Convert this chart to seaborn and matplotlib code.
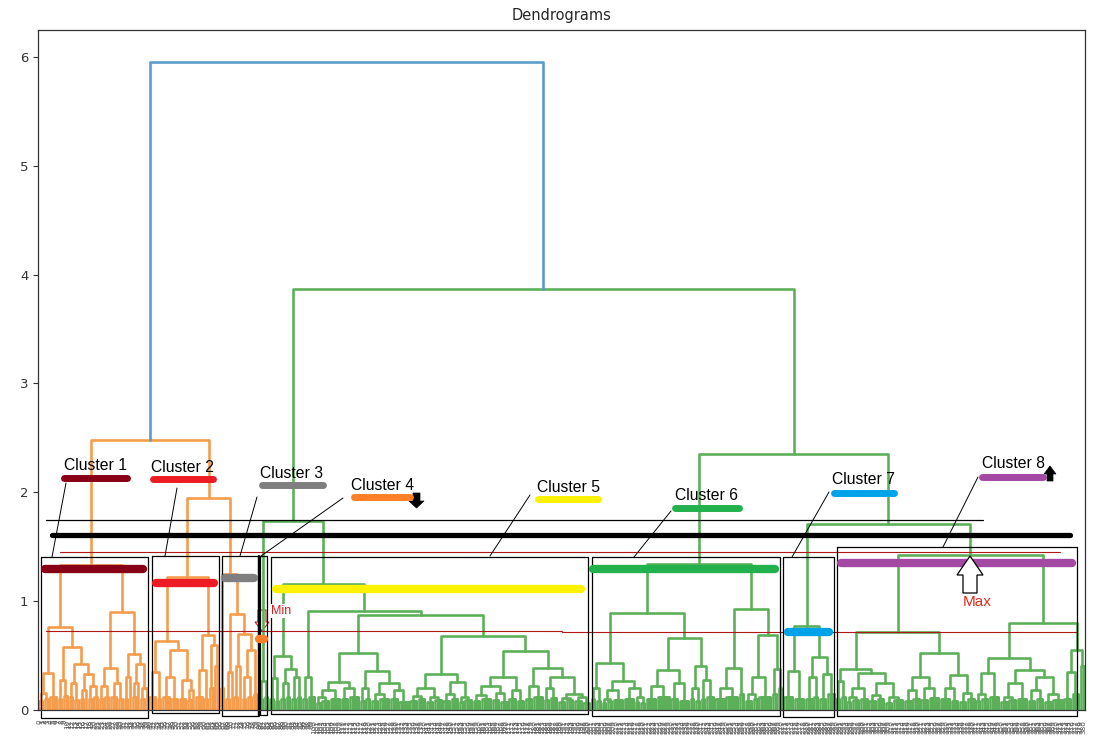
import matplotlib
matplotlib.use("Agg")
import matplotlib.pyplot as plt
import seaborn as sns
import pandas as pd
from matplotlib.patches import Polygon

# ------------------------------------------------------------------
# DATA: dendrogram
# node = [merge_height, left, right]   bundle = (merge_height, n_leaves)
# ------------------------------------------------------------------
cluster_1 = [1.33,
    [0.76,
        [0.34, [0.16, (0.08, 2), (0.10, 2)], (0.12, 3)],
        [0.58,
            [0.28, (0.10, 2), (0.13, 2)],
            [0.42,
                [0.25, (0.12, 2), (0.09, 2)],
                [0.33, [0.18, (0.10, 2), (0.0, 1)], [0.22, (0.10, 2), (0.12, 2)]]]]],
    [0.90,
        [0.39, [0.22, (0.10, 2), (0.12, 2)], [0.25, (0.12, 3), (0.10, 2)]],
        [0.51, [0.30, (0.10, 2), (0.0, 1)],
               [0.42, [0.25, (0.12, 2), (0.0, 1)], [0.20, (0.10, 2), (0.0, 1)]]]]]

cluster_2 = [1.22,
    [0.63,
        [0.35, (0.12, 3), (0.10, 2)],
        [0.55, [0.30, (0.12, 3), (0.10, 3)], [0.28, (0.10, 3), [0.18, (0.09, 2), (0.0, 1)]]]],
    [0.69,
        [0.37, (0.12, 3), (0.10, 2)],
        [0.60, (0.20, 2), (0.40, 2)]]]

cluster_3 = [1.25, (0.20, 2),
    [0.88, [0.35, (0.10, 2), (0.0, 1)],
           [0.70, [0.40, (0.12, 2), (0.0, 1)],
                  [0.55, [0.30, (0.10, 2), (0.12, 2)], (0.15, 2)]]]]

cluster_4 = [0.27, (0.10, 2), (0.12, 2)]

cluster_5 = [1.16,
    [0.50,
        [0.29, (0.10, 2), (0.08, 2)],
        [0.38, [0.25, (0.10, 2), (0.12, 2)], [0.30, (0.10, 2), (0.12, 2)]]],
    [0.91,
        [0.30, (0.10, 2), (0.12, 3)],
        [0.87,
            [0.52,
                [0.26, [0.18, [0.12, (0.06, 2), (0.08, 3)], (0.10, 4)],
                       [0.20, (0.10, 3), (0.12, 4)]],
                [0.36, [0.20, (0.08, 2), (0.10, 2)],
                       [0.25, [0.15, (0.08, 3), (0.10, 4)], [0.18, (0.10, 3), (0.07, 4)]]]],
            [0.68,
                [0.33, [0.20, [0.13, (0.08, 3), (0.10, 3)], [0.12, (0.07, 3), (0.09, 3)]],
                       [0.26, [0.15, (0.08, 3), (0.10, 3)], [0.12, (0.07, 2), (0.09, 3)]]],
                [0.54,
                    [0.30, [0.22, [0.14, (0.08, 3), (0.10, 4)], [0.16, (0.09, 3), (0.07, 3)]],
                           [0.18, (0.10, 3), (0.08, 3)]],
                    [0.39, [0.22, (0.10, 3), (0.12, 4)],
                           [0.30, [0.20, (0.09, 2), (0.11, 3)],
                                  [0.15, [0.11, (0.07, 3), (0.09, 3)],
                                         [0.12, (0.08, 3), (0.06, 3)]]]]]]]]]

cluster_6 = [1.34,
    [0.89,
        [0.43, [0.20, (0.10, 2), (0.08, 2)],
               [0.27, [0.18, [0.10, (0.06, 2), (0.08, 2)], (0.09, 4)],
                      [0.20, (0.10, 4), [0.12, (0.07, 2), (0.06, 2)]]]],
        [0.66,
            [0.37, [0.22, (0.10, 4), (0.12, 5)], [0.25, (0.10, 3), (0.08, 4)]],
            [0.40, [0.20, (0.10, 2), (0.08, 2)], [0.28, (0.10, 2), (0.12, 3)]]]],
    [0.93,
        [0.39, [0.20, (0.10, 4), (0.12, 5)], (0.15, 2)],
        [0.69, [0.30, [0.15, (0.08, 3), (0.10, 2)], (0.12, 5)],
               [0.38, (0.15, 2), (0.20, 2)]]]]

cluster_7 = [0.77,
    [0.36, (0.12, 4), (0.10, 4)],
    [0.49, [0.30, (0.10, 3), (0.12, 2)], [0.33, (0.10, 3), (0.15, 3)]]]

cluster_8 = [1.42,
    [0.72,
        [0.38, [0.27, (0.10, 2), (0.12, 2)],
               [0.34, [0.20, [0.12, (0.07, 2), (0.09, 3)], (0.10, 3)],
                      [0.25, [0.14, (0.08, 3), (0.10, 3)], [0.12, (0.06, 3), (0.09, 4)]]]],
        [0.52, [0.30, [0.18, (0.08, 3), (0.10, 3)], [0.20, (0.09, 3), (0.11, 4)]],
               [0.32, [0.20, (0.10, 4), (0.08, 3)], [0.16, (0.07, 3), (0.10, 3)]]]],
    [0.80,
        [0.48, [0.34, [0.15, (0.08, 2), (0.10, 3)], (0.12, 4)],
               [0.37, [0.25, [0.12, (0.07, 3), (0.09, 3)], (0.10, 4)],
                      [0.30, [0.18, (0.08, 3), (0.10, 3)], [0.15, (0.07, 3), (0.09, 4)]]]],
        [0.55, [0.35, (0.10, 3), (0.15, 3)], (0.40, 2)]]]

orange_link_heights = [2.48, 1.95]          # orange root, cluster2+3
green_link_heights = [3.87, 1.74, 2.35, 1.71]  # green root, c4+c5, c6+(c7,c8), c7+c8
root_height = 5.95

cluster_names = ["Cluster 1", "Cluster 2", "Cluster 3", "Cluster 4",
                 "Cluster 5", "Cluster 6", "Cluster 7", "Cluster 8"]
cluster_colors = ["#880015", "#ED1C24", "#7F7F7F", "#FF7F27",
                  "#FFF200", "#22B14C", "#00A2E8", "#A349A4"]
line_palette = {"orange": "#F59D4C", "green": "#5DB05A", "blue": "#5B9CCB"}

# ------------------------------------------------------------------
# build link paths
# ------------------------------------------------------------------
orange_tree = [orange_link_heights[0], cluster_1,
               [orange_link_heights[1], cluster_2, cluster_3]]
green_tree = [green_link_heights[0],
              [green_link_heights[1], cluster_4, cluster_5],
              [green_link_heights[2], cluster_6,
               [green_link_heights[3], cluster_7, cluster_8]]]

rows = []
link_counter = [0]
leaf_counter = [0]


def add_path(xs, ys, group):
    lid = link_counter[0]
    link_counter[0] += 1
    for i, (x, y) in enumerate(zip(xs, ys)):
        rows.append({"link": lid, "order": i, "x": x, "y": y, "group": group})


def layout(node, group):
    if isinstance(node, tuple):
        h, k = node
        xs = [5.0 + 10.0 * (leaf_counter[0] + i) for i in range(k)]
        leaf_counter[0] += k
        if k == 1:
            return xs[0], 0.0
        px, py = [], []
        for i, x in enumerate(xs):
            if i == 0:
                px += [x, x]
                py += [0.0, h]
            else:
                px += [x, x, x]
                py += [h, 0.0, h]
        add_path(px, py, group)
        return sum(xs) / k, h
    h, left, right = node
    xl, hl = layout(left, group)
    xr, hr = layout(right, group)
    add_path([xl, xl, xr, xr], [hl, h, h, hr], group)
    return (xl + xr) / 2.0, h


xo, ho = layout(orange_tree, "orange")
xg, hg = layout(green_tree, "green")
add_path([xo, xo, xg, xg], [ho, root_height, root_height, hg], "blue")
N = leaf_counter[0]
df = pd.DataFrame(rows)

# ------------------------------------------------------------------
# figure
# ------------------------------------------------------------------
sns.set_style("ticks")
plt.rcParams["font.family"] = ["DejaVu Sans"]
W, H = 1108, 745
fig = plt.figure(figsize=(W / 100, H / 100), dpi=100)
X0, X1, YB, YT = 38, 1085, 710, 30
ax = fig.add_axes([X0 / W, 1 - YB / H, (X1 - X0) / W, (YB - YT) / H])

sns.lineplot(data=df, x="x", y="y", units="link", estimator=None, hue="group",
             palette=line_palette, sort=False, linewidth=1.9, legend=False, ax=ax)

YMAX = root_height * 1.05
ax.set_xlim(0, 10 * N)
ax.set_ylim(0, YMAX)
ax.set_xlabel("")
ax.set_ylabel("")
ax.set_title("Dendrograms", fontsize=10.5, pad=7)
ax.set_yticks([0, 1, 2, 3, 4, 5, 6])
ax.tick_params(axis="y", labelsize=9.5, length=3.5, colors="#333333")
leaf_labels = [str(i) for i in range(N)]
ax.set_xticks([5 + 10 * i for i in range(N)])
ax.set_xticklabels(leaf_labels, rotation=90, fontsize=5.2, color="#555555")
ax.tick_params(axis="x", length=0, pad=7)
for s in ax.spines.values():
    s.set_visible(True)
    s.set_color("#333333")
    s.set_linewidth(0.9)


def P(px, py):
    return ((px - X0) / (X1 - X0) * 10 * N, (YB - py) / (YB - YT) * YMAX)


def seg(pts, **kw):
    xy = [P(a, b) for a, b in pts]
    ax.plot([p[0] for p in xy], [p[1] for p in xy], clip_on=False, **kw)


# reference horizontal lines
seg([(46, 520), (983, 520)], color="black", lw=0.9)
seg([(52, 535), (1070, 535)], color="black", lw=3.8, solid_capstyle="round")
seg([(60, 552), (1060, 552)], color="#B01818", lw=0.8)
seg([(46, 631), (562, 631)], color="#B01818", lw=0.8)
seg([(562, 632), (1077, 632)], color="#B01818", lw=0.8)

# cluster boxes (x0, x1, ytop, ybottom) in reference pixels
box_x0 = [41, 152, 222, 260, 271, 592, 783, 837]
box_x1 = [148, 219, 258, 267, 588, 780, 834, 1077]
box_top = [557, 556, 556, 556, 557, 557, 557, 547]
box_bot = [718, 713, 716, 715, 714, 716, 717, 716]
for a, b, t, u in zip(box_x0, box_x1, box_top, box_bot):
    seg([(a, t), (b, t), (b, u), (a, u), (a, t)], color="black", lw=0.9)
seg([(259, 556), (259, 716)], color="black", lw=1.6)

# big cluster bars (x0, x1, y)
bar_x0 = [45, 156, 225, 259, 276, 593, 788, 841]
bar_x1 = [143, 214, 254, 264, 581, 775, 829, 1072]
bar_y = [569, 583, 578, 639, 589, 569, 632, 563]
for a, b, y, c in zip(bar_x0, bar_x1, bar_y, cluster_colors):
    seg([(a, y), (b, y)], color=c, lw=6.0, solid_capstyle="round")

# label bars
lab_bar_x0 = [64, 153, 262, 354, 538, 675, 834, 982]
lab_bar_x1 = [127, 213, 323, 410, 598, 739, 894, 1043]
lab_bar_y = [478, 479, 485, 497, 499, 508, 493, 477]
for a, b, y, c in zip(lab_bar_x0, lab_bar_x1, lab_bar_y, cluster_colors):
    seg([(a, y), (b, y)], color=c, lw=5.0, solid_capstyle="round")

# labels
lab_x = [64, 151, 260, 351, 537, 675, 832, 982]
lab_y = [466, 467, 473, 486, 488, 496, 480, 463]
for name, x, y in zip(cluster_names, lab_x, lab_y):
    ax.text(*P(x, y), name, ha="left", va="center", fontsize=11.3,
            family=["Liberation Sans", "DejaVu Sans"], color="black", clip_on=False)

# leader lines
leaders = [((66, 483), (52, 557)), ((177, 488), (165, 556)), ((257, 497), (240, 556)),
           ((343, 498), (261, 556)), ((530, 495), (490, 556)), ((671, 511), (634, 557)),
           ((829, 492), (792, 557)), ((978, 477), (943, 547))]
for p0, p1 in leaders:
    seg([p0, p1], color="black", lw=0.7)

# black block arrows
arrow_down = [(413, 493), (420, 493), (420, 501), (424, 501), (416.5, 508), (409, 501), (413, 501)]
arrow_up = [(1050, 466), (1056, 474), (1053, 474), (1053, 481), (1047, 481), (1047, 474), (1044, 474)]
for pts in (arrow_down, arrow_up):
    ax.add_patch(Polygon([P(a, b) for a, b in pts], closed=True, facecolor="black",
                         edgecolor="black", lw=0.5, clip_on=False))

# Min marker
min_arrow = [(258, 610), (266, 610), (266, 622), (269, 622), (262, 631), (255, 622), (258, 622)]
ax.add_patch(Polygon([P(a, b) for a, b in min_arrow], closed=True, facecolor="none",
                     edgecolor="#D02020", lw=0.8, clip_on=False))
ax.text(*P(271, 611), "Min", ha="left", va="center", fontsize=9,
        family=["Liberation Sans", "DejaVu Sans"], color="#D02020", zorder=6,
        bbox=dict(boxstyle="square,pad=0.05", facecolor="white", edgecolor="none"))

# Max marker
max_arrow = [(970, 556), (983, 575), (977, 575), (977, 593), (963, 593), (963, 575), (957, 575)]
ax.add_patch(Polygon([P(a, b) for a, b in max_arrow], closed=True, facecolor="white",
                     edgecolor="black", lw=0.9, clip_on=False, zorder=5))
ax.text(*P(977, 602), "Max", ha="center", va="center", fontsize=11,
        family=["Liberation Sans", "DejaVu Sans"], color="#E02A1E")

fig.savefig("out.png", dpi=100)
